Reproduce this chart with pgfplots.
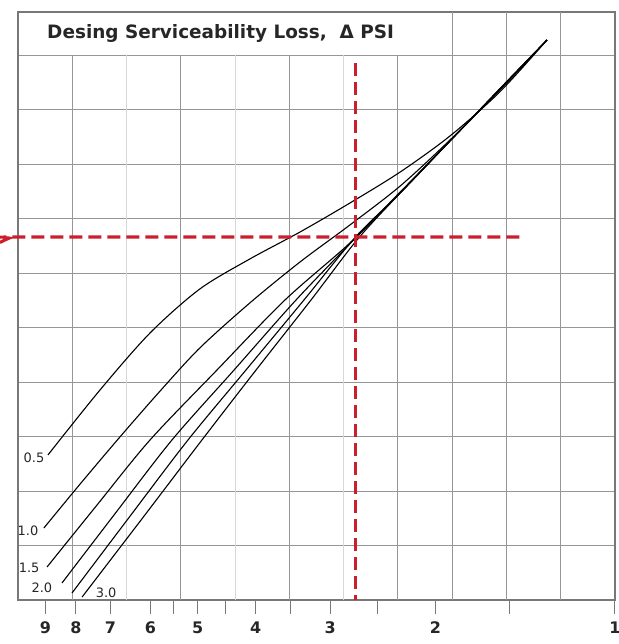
\documentclass[border=0pt]{standalone}
\usepackage{pgfplots}
\pgfplotsset{compat=1.18}
\usepackage{fontspec}
\setmainfont{DejaVu Sans}
\definecolor{redline}{RGB}{204,30,45}
\definecolor{gridc}{RGB}{150,150,150}
\definecolor{gridl}{RGB}{215,215,215}
\definecolor{framec}{RGB}{120,120,120}
\begin{document}
\begin{tikzpicture}
\begin{axis}[
  name=ax,
  scale only axis, width=597bp, height=588bp,
  xmode=log, xmin=1, xmax=10, x dir=reverse,
  ymin=0, ymax=10.789,
  axis line style={framec, line width=1.4bp},
  xtick={1,1.5,2,2.5,3,3.5,4,4.5,5,5.5,6,7,8,9},
  xticklabels={1,{},2,{},3,{},4,{},5,{},6,7,8,9},
  xtick pos=bottom, xtick align=outside,
  major tick length=14bp,
  x tick style={framec, line width=1bp},
  ytick={1,2,3,4,5,6,7,8,9,10}, yticklabels={}, y tick style={draw=none},
  ymajorgrids, major grid style={gridc, line width=0.9bp},
  /pgf/number format/assume math mode=true,
  xticklabel style={font=\fontsize{16}{16}\selectfont\bfseries, text=black!85, yshift=-4bp},
  clip=false,
]
% vertical grid lines (equal spacing)
\pgfplotsinvokeforeach{8.111,5.337,3.511,2.310}{\draw[gridc, line width=0.9bp] (axis cs:#1,0) -- (axis cs:#1,10);}
\pgfplotsinvokeforeach{6.579,4.329,2.848}{\draw[gridl, line width=0.8bp] (axis cs:#1,0) -- (axis cs:#1,10);}
\pgfplotsinvokeforeach{1.874,1.520,1.233}{\draw[gridc, line width=0.9bp] (axis cs:#1,0) -- (axis cs:#1,10.789);}

% Delta PSI = 0.5
\addplot[black, line width=1.1bp, smooth, tension=0.5] coordinates {
(8.91,2.661) (7.29,3.853) (6.01,4.899) (4.96,5.706) (4.09,6.257) (3.37,6.752) (2.78,7.284) (2.29,7.853) (1.89,8.514) (1.56,9.321) (1.30,10.275)};
% 1.0
\addplot[black, line width=1.1bp, smooth, tension=0.5] coordinates {
(9.05,1.321) (7.87,2.128) (6.75,2.991) (5.78,3.835) (4.96,4.624) (4.09,5.450) (3.37,6.202) (2.78,6.881) (2.29,7.596) (1.89,8.440) (1.56,9.358) (1.30,10.275)};
% 1.5
\addplot[black, line width=1.1bp, smooth, tension=0.5] coordinates {
(8.94,0.606) (7.374,1.743) (6.01,2.936) (4.642,4.220) (3.571,5.505) (2.78,6.550) (2.29,7.486) (1.89,8.422) (1.56,9.358) (1.30,10.275)};
% 2.0
\addplot[black, line width=1.1bp, smooth, tension=0.5] coordinates {
(8.44,0.312) (6.905,1.560) (5.522,2.936) (4.346,4.220) (3.422,5.505) (2.72,6.642) (2.29,7.468) (1.89,8.422) (1.56,9.376) (1.30,10.275)};
% 2.5
\addplot[black, line width=1.1bp, smooth, tension=0.5] coordinates {
(8.12,0.128) (6.469,1.560) (5.191,2.936) (4.151,4.220) (3.319,5.505) (2.72,6.661) (2.29,7.468) (1.89,8.422) (1.56,9.376) (1.30,10.275)};
% 3.0
\addplot[black, line width=1.1bp, smooth, tension=0.5] coordinates {
(7.81,0.055) (6.130,1.560) (4.919,2.936) (3.993,4.220) (3.230,5.505) (2.705,6.606) (2.29,7.468) (1.89,8.422) (1.56,9.376) (1.30,10.275)};

% red dashed guide lines
\addplot[redline, line width=3.2bp, dash pattern=on 13bp off 6bp] coordinates {(2.72,9.85) (2.72,0)};
\addplot[redline, line width=3.2bp, dash pattern=on 13bp off 6bp, smooth, tension=0.3] coordinates {(10.72,6.56) (10.35,6.64) (10,6.66) (1.43,6.66)};

% labels
\node[font=\fontsize{13}{13}\selectfont, text=black!85] at (axis cs:9.40,2.61) {0.5};
\node[font=\fontsize{13}{13}\selectfont, text=black!85] at (axis cs:9.62,1.27) {1.0};
\node[font=\fontsize{13}{13}\selectfont, text=black!85] at (axis cs:9.58,0.59) {1.5};
\node[font=\fontsize{13}{13}\selectfont, text=black!85] at (axis cs:9.12,0.22) {2.0};
\node[font=\fontsize{13}{13}\selectfont, text=black!85] at (axis cs:7.12,0.13) {3.0};
\node[anchor=west, font=\fontsize{18.5}{18.5}\selectfont\bfseries, text=black!85, inner sep=0pt] at (axis cs:8.94,10.40) {Desing Serviceability Loss,\ \ Δ PSI};
\end{axis}
\pgfresetboundingbox
\path[use as bounding box] ([xshift=-18bp,yshift=-44bp]ax.south west) rectangle ([xshift=4bp,yshift=12bp]ax.north east);
\end{tikzpicture}
\end{document}
